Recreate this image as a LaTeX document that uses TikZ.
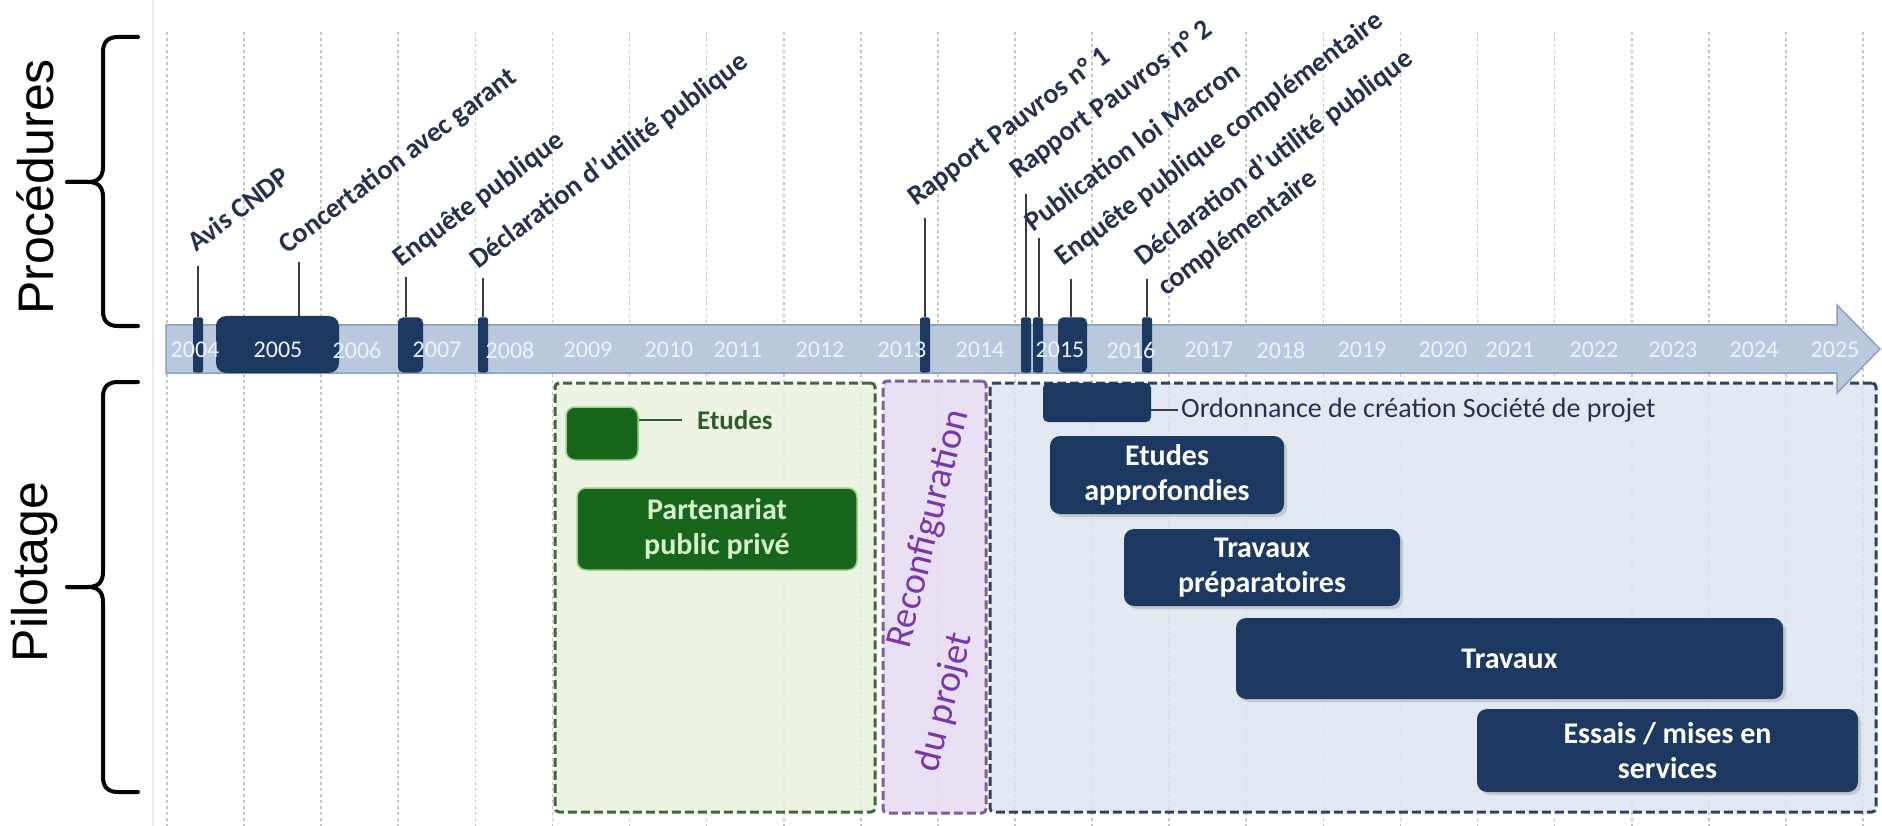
\documentclass[tikz,border=0pt]{standalone}
\usepackage{fontspec}
\setmainfont{Carlito}
\newfontfamily\arialf{Liberation Sans}
\usetikzlibrary{shadows}
\definecolor{navy}{HTML}{1D3961}
\definecolor{barfill}{HTML}{B9C8DD}
\definecolor{bardraw}{HTML}{8C9FBB}
\definecolor{yearc}{HTML}{EDF2F9}
\definecolor{labc}{HTML}{26324D}
\definecolor{gridc}{HTML}{C6C6C6}
\definecolor{greenfill}{HTML}{EAF1DD}
\definecolor{greendraw}{HTML}{3E6A39}
\definecolor{dkgreen}{HTML}{17661B}
\definecolor{palegreen}{HTML}{D6F2CE}
\definecolor{glowgreen}{HTML}{9CCF8C}
\definecolor{etgreen}{HTML}{2E5C2A}
\definecolor{purplefill}{HTML}{E6DAF1}
\definecolor{purpledraw}{HTML}{7E5F9E}
\definecolor{purpletext}{HTML}{7838A8}
\definecolor{bluefill}{HTML}{DCE5F0}
\definecolor{bluedraw}{HTML}{33415E}
\definecolor{leadc}{HTML}{3C3C3C}
\definecolor{faintc}{HTML}{ECECEC}
\begin{document}
\begin{tikzpicture}[x=1pt,y=-1pt,
  gridline/.style={draw=gridc, line width=1.6pt, dash pattern=on 3pt off 3pt},
  evt/.style={rectangle, fill=navy, rounded corners=2pt, inner sep=0pt, minimum height=55pt},
  leader/.style={draw=leadc, line width=2pt},
  lab/.style={text=labc, font=\fontsize{28}{33}\selectfont\bfseries, rotate=37, anchor=base west, inner sep=0pt},
  year/.style={text=yearc, font=\fontsize{24}{28}\selectfont, inner sep=0pt},
  frame/.style={rectangle, rounded corners=4pt, line width=3pt, dash pattern=on 9pt off 4pt, inner sep=0pt, fill opacity=0.85},
  navybox/.style={rectangle, rounded corners=10pt, fill=navy, text=white, align=center, inner sep=0pt,
    font=\fontsize{30}{35}\selectfont\bfseries, drop shadow={shadow xshift=3pt, shadow yshift=-3pt, opacity=0.3}},
  greenbox/.style={rectangle, rounded corners=9pt, fill=dkgreen, draw=glowgreen, line width=1.5pt, text=palegreen,
    align=center, inner sep=0pt, font=\fontsize{30}{35}\selectfont\bfseries},
  brace/.style={draw=black, line width=4pt, line cap=round, line join=round},
  side/.style={font=\arialf\fontsize{50}{56}\selectfont, rotate=90, inner sep=0pt}
]
\useasboundingbox (0,0) rectangle (1882,826);
\fill[white] (0,0) rectangle (1882,826);
\draw[faintc, line width=2pt] (153,0) -- (153,826);

% grid
\foreach \k in {0,...,22}
  \draw[gridline] ({167+77.09*\k},32) -- ({167+77.09*\k},826);

% side labels and braces
\node[side] (proc) at (35,187) {Procédures};
\node[side] (pilo) at (35,572) {Pilotage};
\draw[brace] (138,37) -- (118,37) .. controls (108,37) and (103,42) .. (103,52) -- (103,167)
  .. controls (103,177) and (98,182) .. (88,182) -- (67,182);
\draw[brace] (67,182) -- (88,182) .. controls (98,182) and (103,187) .. (103,197) -- (103,311)
  .. controls (103,321) and (108,326) .. (118,326) -- (138,326);
\draw[brace] (138,382) -- (118,382) .. controls (108,382) and (103,387) .. (103,397) -- (103,572)
  .. controls (103,582) and (98,587) .. (88,587) -- (67,587);
\draw[brace] (67,587) -- (88,587) .. controls (98,587) and (103,592) .. (103,602) -- (103,777)
  .. controls (103,787) and (108,792) .. (118,792) -- (138,792);

% frames
\node[frame, draw=greendraw, fill=greenfill, minimum width=320pt, minimum height=429pt] (gf) at (715,597.5) {};
\node[frame, draw=purpledraw, fill=purplefill, minimum width=103pt, minimum height=432pt] (pf) at (934.5,597) {};
\node[frame, draw=bluedraw, fill=bluefill, minimum width=886pt, minimum height=429pt] (bf) at (1433,597.5) {};

% timeline bar
\filldraw[fill=barfill, draw=bardraw, line width=1.5pt]
  (166,325) -- (1837,325) -- (1837,305) -- (1880,349) -- (1837,393) -- (1837,373) -- (166,373) -- cycle;

% event markers
\node[evt, minimum width=10pt] (m1) at (198,345) {};
\node[evt, minimum width=123pt, minimum height=57pt, rounded corners=10pt] (m2) at (277.5,344.5) {};
\node[evt, minimum width=25pt, rounded corners=5pt] (m3) at (410.5,345) {};
\node[evt, minimum width=10pt] (m4) at (483,345) {};
\node[evt, minimum width=10pt] (m5) at (925,345) {};
\node[evt, minimum width=10pt] (m6) at (1026,345) {};
\node[evt, minimum width=10pt] (m7) at (1038,345) {};
\node[evt, minimum width=29pt, rounded corners=5pt] (m8) at (1072.5,345) {};
\node[evt, minimum width=10pt] (m9) at (1147,345) {};

% leader tops
\coordinate (t1) at (198,266);
\coordinate (t2) at (299,262);
\coordinate (t3) at (406,277);
\coordinate (t4) at (483,278);
\coordinate (t5) at (925,218);
\coordinate (t6) at (1026,194);
\coordinate (t7) at (1039,238);
\coordinate (t8) at (1071,279);
\coordinate (t9) at (1147,279);
\draw[leader] (t1 |- m1.north) -- (t1);
\draw[leader] (t2 |- m2.north) -- (t2);
\draw[leader] (t3 |- m3.north) -- (t3);
\draw[leader] (t4 |- m4.north) -- (t4);
\draw[leader] (t5 |- m5.north) -- (t5);
\draw[leader] (t6 |- m6.north) -- (t6);
\draw[leader] (t7 |- m7.north) -- (t7);
\draw[leader] (t8 |- m8.north) -- (t8);
\draw[leader] (t9 |- m9.north) -- (t9);

% labels
\node[lab] (l1) at (196,253) {Avis CNDP};
\node[lab] (l2) at (287,255) {Concertation avec garant};
\node[lab] (l3) at (401,268) {Enquête publique};
\node[lab] (l4) at (478,270) {Déclaration d'utilité publique};
\node[lab] (l5) at (916,207) {Rapport Pauvros  n° 1};
\node[lab] (l6) at (1018,180) {Rapport Pauvros  n° 2};
\node[lab] (l7) at (1033,233) {Publication loi Macron};
\node[lab] (l8) at (1063,267) {Enquête publique complémentaire};
\node[lab] (l9) at (1143,267) {Déclaration d'utilité publique};
\node[lab] (l9b) at (1166,297) {complémentaire};

% years
\foreach \yr/\xx in {2004/195, 2005/278, 2006/357, 2007/437, 2008/510, 2009/588, 2010/669,
  2011/738, 2012/820, 2013/902, 2014/980, 2015/1060, 2016/1131, 2017/1209, 2018/1281,
  2019/1362, 2020/1443, 2021/1510, 2022/1594, 2023/1673, 2024/1754, 2025/1835}
  \node[year] (y\yr) at (\xx,350) {\yr};

% green part
\node[greenbox, minimum width=72pt, minimum height=53pt] (etg) at (602,433.5) {};
\node[anchor=west, text=etgreen, font=\fontsize{27}{32}\selectfont\bfseries, inner sep=0pt] (etl) at (697,420) {Etudes};
\draw[draw=etgreen, line width=1.5pt] (etg.east |- etl.west) -- ([xshift=-15pt]etl.west);
\node[greenbox, minimum width=280pt, minimum height=82pt] (ppp) at (717,529) {Partenariat\\public privé};

% purple text
\node[text=purpletext, font=\fontsize{38}{44}\selectfont, rotate=76, inner sep=0pt] (rc1) at (929,529) {Reconfiguration};
\node[text=purpletext, font=\fontsize{38}{44}\selectfont, rotate=76, inner sep=0pt] (rc2) at (945,702) {du projet};

% blue part
\node[rectangle, rounded corners=5pt, fill=navy, minimum width=108pt, minimum height=39pt, inner sep=0pt] (ord) at (1097,402.5) {};
\node[anchor=west, text=labc, font=\fontsize{28}{33}\selectfont, inner sep=0pt] (ordl) at (1181,410) {Ordonnance de création Société de projet};
\draw[draw=leadc, line width=1.5pt] (ord.east |- ordl.west) -- ([xshift=-3pt]ordl.west);

\node[navybox, minimum width=234pt, minimum height=78pt] (ea) at (1167,475) {Etudes\\approfondies};
\node[navybox, minimum width=276pt, minimum height=77pt] (tp) at (1262,567.5) {Travaux\\préparatoires};
\node[navybox, minimum width=547pt, minimum height=81pt] (tr) at (1509.5,658.5) {Travaux};
\node[navybox, minimum width=381pt, minimum height=83pt] (es) at (1667.5,750.5) {Essais / mises en\\services};
\end{tikzpicture}
\end{document}
